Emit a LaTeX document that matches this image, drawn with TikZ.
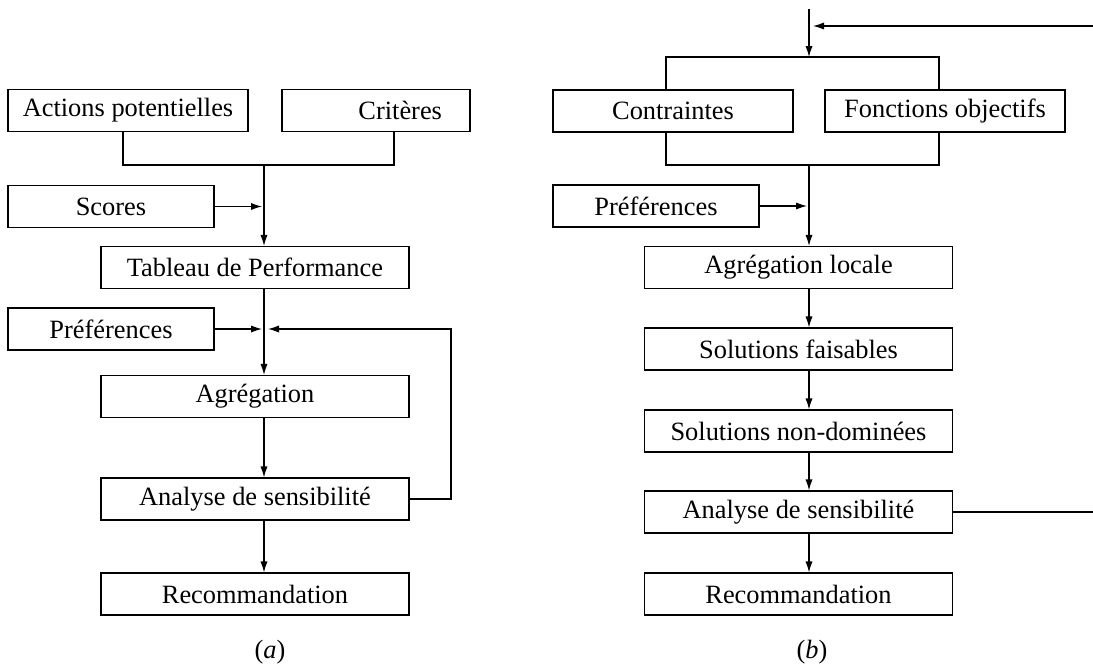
\documentclass[tikz,border=0pt]{standalone}
\usepackage{fontspec}
\setmainfont{Liberation Serif}
\usetikzlibrary{arrows.meta}

\begin{document}
\begin{tikzpicture}[x=0.5pt, y=-0.5pt, font=\fontsize{13.2}{16}\selectfont,
        bloc/.style={draw, line width=0.6pt, minimum height=21pt, inner sep=0pt},
        large/.style={bloc, minimum width=154pt},
        fl/.style={-{Latex[length=5.5pt,width=3.6pt]}, line width=0.6pt},
        lien/.style={line width=0.6pt}]
        \useasboundingbox (0,0) rectangle (1093,664);
        % (a)
        \node[bloc, minimum width=120pt] (actions) at (128,110.5) {Actions potentielles};
        \node[bloc, text width=66pt, inner xsep=14pt, align=right] (criteres) at (376,110.5) {Critères};
        \node[bloc, minimum width=103pt] (scores) at (111,206.5) {Scores};
        \node[large] (tableau) at (255,267.5) {Tableau de Performance};
        \node[bloc, minimum width=103pt] (prefa) at (111,329) {Préférences};
        \node[large] (agreg) at (255,396.5) {Agrégation};
        \node[large] (analysea) at (255,499) {Analyse de sensibilité};
        \node[large] (recoma) at (255,594) {Recommandation};
        \node (la) at (270,652) {(\textit{a})};
        \coordinate (ja) at (264,165);
        \coordinate (ra) at (451,0);
        \draw[lien] ([xshift=-2.5pt]actions.south) |- (ja) -| ([xshift=9pt]criteres.south);
        \draw[fl] (ja) -- (ja |- tableau.north);
        \draw[fl, shorten >=1pt] (scores.east) -- (scores.east -| ja);
        \draw[fl] (tableau.south -| ja) -- (agreg.north -| ja);
        \draw[fl, shorten >=1pt] (prefa.east) -- (prefa.east -| ja);
        \draw[fl] (agreg.south -| ja) -- (analysea.north -| ja);
        \draw[fl] (analysea.south -| ja) -- (recoma.north -| ja);
        \draw[fl, shorten >=2pt] (analysea.east) -- (analysea.east -| ra) |- (prefa.east -| ja);
        % (b)
        \node[bloc, minimum width=120pt] (contr) at (673,111) {Contraintes};
        \node[bloc, minimum width=120pt] (fonct) at (945,111) {Fonctions objectifs};
        \node[bloc, minimum width=103pt] (prefb) at (656,206) {Préférences};
        \node[large] (agloc) at (798.5,267.5) {Agrégation locale};
        \node[large] (solf) at (798.5,349) {Solutions faisables};
        \node[large] (solnd) at (798.5,431) {Solutions non-dominées};
        \node[large] (analyseb) at (798.5,512) {Analyse de sensibilité};
        \node[large] (recomb) at (798.5,594) {Recommandation};
        \node (lb) at (812,652) {(\textit{b})};
        \coordinate (hb) at (809,9);
        \coordinate (jb1) at (809,57);
        \coordinate (jb2) at (809,165);
        \coordinate (fbin) at (1093,26);
        \coordinate (fbout) at (1093,0);
        \draw[fl] (hb) -- (jb1);
        \draw[fl, shorten >=2pt] (fbin) -- (fbin -| hb);
        \draw[lien] ([xshift=-3.5pt]contr.north) |- (jb1) -| ([xshift=-3pt]fonct.north);
        \draw[lien] ([xshift=-3.5pt]contr.south) |- (jb2) -| ([xshift=-3pt]fonct.south);
        \draw[fl] (jb2) -- (jb2 |- agloc.north);
        \draw[fl, shorten >=1pt] (prefb.east) -- (prefb.east -| jb2);
        \draw[fl] (agloc.south -| jb2) -- (solf.north -| jb2);
        \draw[fl] (solf.south -| jb2) -- (solnd.north -| jb2);
        \draw[fl] (solnd.south -| jb2) -- (analyseb.north -| jb2);
        \draw[fl] (analyseb.south -| jb2) -- (recomb.north -| jb2);
        \draw[lien] (analyseb.east) -- (analyseb.east -| fbout);
\end{tikzpicture}
\end{document}
